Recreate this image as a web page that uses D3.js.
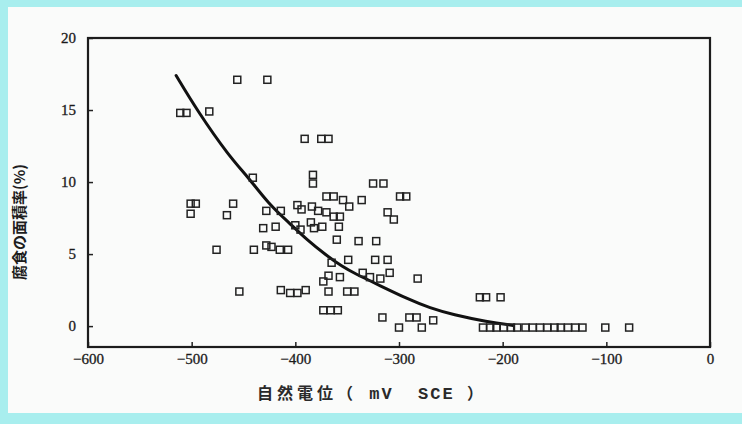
<!DOCTYPE html>
<html>
<head>
<meta charset="utf-8">
<script src="https://cdn.jsdelivr.net/npm/d3@7"></script>
<style>
  html, body { margin: 0; padding: 0; background: #a8eeee; }
  svg { display: block; }
</style>
</head>
<body>
<svg id="chart" width="742" height="424"></svg>
<script>
// axis ticks
const xTicks = [-600, -500, -400, -300, -200, -100, 0];
const yTicks = [0, 5, 10, 15, 20];

// measured points: [natural potential (mV SCE), corroded area (%)]
const samples = [
  [-456, 17.1], [-427, 17.1],
  [-511, 14.8], [-505, 14.8], [-483, 14.9],
  [-441, 10.3], [-391, 13.0], [-375, 13.0], [-368, 13.0],
  [-383, 10.5], [-383, 9.9],
  [-501, 8.5], [-496, 8.5], [-501, 7.8], [-460, 8.5], [-466, 7.7],
  [-428, 8.0], [-414, 8.0], [-431, 6.8], [-419, 6.9],
  [-476, 5.3], [-440, 5.3], [-428, 5.6], [-423, 5.5], [-415, 5.3], [-407, 5.3],
  [-454, 2.4], [-414, 2.5], [-405, 2.3], [-398, 2.3], [-390, 2.5],
  [-398, 8.4], [-394, 8.1], [-384, 8.3], [-378, 8.0],
  [-370, 9.0], [-363, 9.0], [-354, 8.75], [-348, 8.3], [-336, 8.75],
  [-325, 9.9], [-315, 9.9], [-299, 9.0], [-293, 9.0], [-311, 7.9], [-305, 7.4],
  [-370, 7.9], [-363, 7.6], [-357, 7.6], [-358, 6.9], [-360, 6.0],
  [-400, 7.0], [-395, 6.7], [-385, 7.2], [-382, 6.8], [-374, 6.9],
  [-339, 5.9], [-322, 5.9],
  [-365, 4.4], [-349, 4.6], [-323, 4.6], [-311, 4.6],
  [-335, 3.7], [-328, 3.4], [-318, 3.3], [-309, 3.7], [-282, 3.3],
  [-368, 3.5], [-373, 3.1], [-357, 3.4],
  [-368, 2.4], [-350, 2.4], [-343, 2.4],
  [-373, 1.1], [-366, 1.1], [-359, 1.1],
  [-316, 0.6], [-300, -0.1], [-290, 0.6], [-283, 0.6], [-278, -0.1], [-267, 0.4],
  [-222, 2.0], [-216, 2.0], [-202, 2.0],
  [-219, -0.1], [-212, -0.1], [-206, -0.1], [-199, -0.1], [-192, -0.1],
  [-186, -0.1], [-178, -0.1], [-171, -0.1], [-164, -0.1], [-157, -0.1],
  [-150, -0.1], [-144, -0.1], [-137, -0.1], [-130, -0.1], [-123, -0.1],
  [-101, -0.1], [-78, -0.1]
];

// fitted trend line
const fitCurve = [
  [-515, 17.4], [-495, 15.0], [-464, 11.8], [-445, 10.3], [-426, 8.5],
  [-405, 7.1], [-389, 6.0], [-370, 4.9], [-354, 4.1], [-344, 3.7],
  [-318, 2.8], [-292, 1.9], [-270, 1.25], [-248, 0.8], [-215, 0.3], [-190, 0.05]
];

const svg = d3.select('#chart');

// scanned paper area
svg.append('rect')
  .attr('x', 8).attr('y', 7)
  .attr('width', 734).attr('height', 406)
  .attr('fill', '#fafbfa');

const x = d3.scaleLinear().domain([-600, 0]).range([88, 710]);
const y = d3.scaleLinear().domain([-1.45, 20]).range([347, 38]);

const tickFont = '"Liberation Serif", "DejaVu Serif", serif';

// y axis (ticks point inward)
const yAxis = svg.append('g')
  .attr('transform', 'translate(88,0)')
  .call(d3.axisLeft(y).tickValues(yTicks).tickSize(-5).tickPadding(12));
yAxis.select('.domain').remove();

// x axis
const xAxis = svg.append('g')
  .attr('transform', 'translate(0,347)')
  .call(d3.axisBottom(x).tickValues(xTicks).tickSize(-5).tickPadding(6)
    .tickFormat(d => d === 0 ? '0' : '\u2212' + Math.abs(d)));
xAxis.select('.domain').remove();

svg.selectAll('.tick line').attr('stroke', '#222').attr('stroke-width', 1.5);
svg.selectAll('.tick text')
  .attr('fill', '#1a1a1a')
  .attr('stroke', '#1a1a1a')
  .attr('stroke-width', 0.3)
  .style('font-family', tickFont)
  .style('font-size', '15px');

// frame
svg.append('rect')
  .attr('x', x(-600)).attr('y', y(20))
  .attr('width', x(0) - x(-600)).attr('height', y(-1.45) - y(20))
  .attr('fill', 'none')
  .attr('stroke', '#1c1c1c')
  .attr('stroke-width', 2.2);

// trend line
svg.append('path')
  .datum(fitCurve)
  .attr('fill', 'none')
  .attr('stroke', '#111')
  .attr('stroke-width', 3)
  .attr('stroke-linecap', 'round')
  .attr('d', d3.line().x(d => x(d[0])).y(d => y(d[1])).curve(d3.curveBasis));

// data squares
const s = 7;
svg.append('g').selectAll('rect')
  .data(samples)
  .enter()
  .append('rect')
  .attr('x', d => x(d[0]) - s / 2)
  .attr('y', d => y(d[1]) - s / 2)
  .attr('width', s).attr('height', s)
  .attr('fill', 'none')
  .attr('stroke', '#222')
  .attr('stroke-width', 1.5);

// axis titles
const xTitle = svg.append('text')
  .attr('x', 370).attr('y', 399)
  .attr('text-anchor', 'middle')
  .attr('fill', '#2a2a2a')
  .style('white-space', 'pre')
  .style('font-size', '16px');
xTitle.append('tspan')
  .style('font-family', '"Noto Sans CJK JP", sans-serif')
  .style('font-weight', 'bold')
  .style('letter-spacing', '4px')
  .text('自然電位（');
xTitle.append('tspan')
  .style('font-family', '"Liberation Mono", "DejaVu Sans Mono", monospace')
  .style('font-weight', 'bold')
  .style('font-size', '17px')
  .style('letter-spacing', '2px')
  .text(' mV  SCE ');
xTitle.append('tspan')
  .style('font-family', '"Noto Sans CJK JP", sans-serif')
  .style('font-weight', 'bold')
  .text('）');

svg.append('text')
  .attr('transform', 'translate(25,222) rotate(-90)')
  .attr('text-anchor', 'middle')
  .attr('fill', '#1e1e1e')
  .style('font-family', '"Noto Sans CJK JP", sans-serif')
  .style('font-weight', 'bold')
  .style('font-size', '15px')
  .text('腐食の面積率(%)');
</script>
</body>
</html>
